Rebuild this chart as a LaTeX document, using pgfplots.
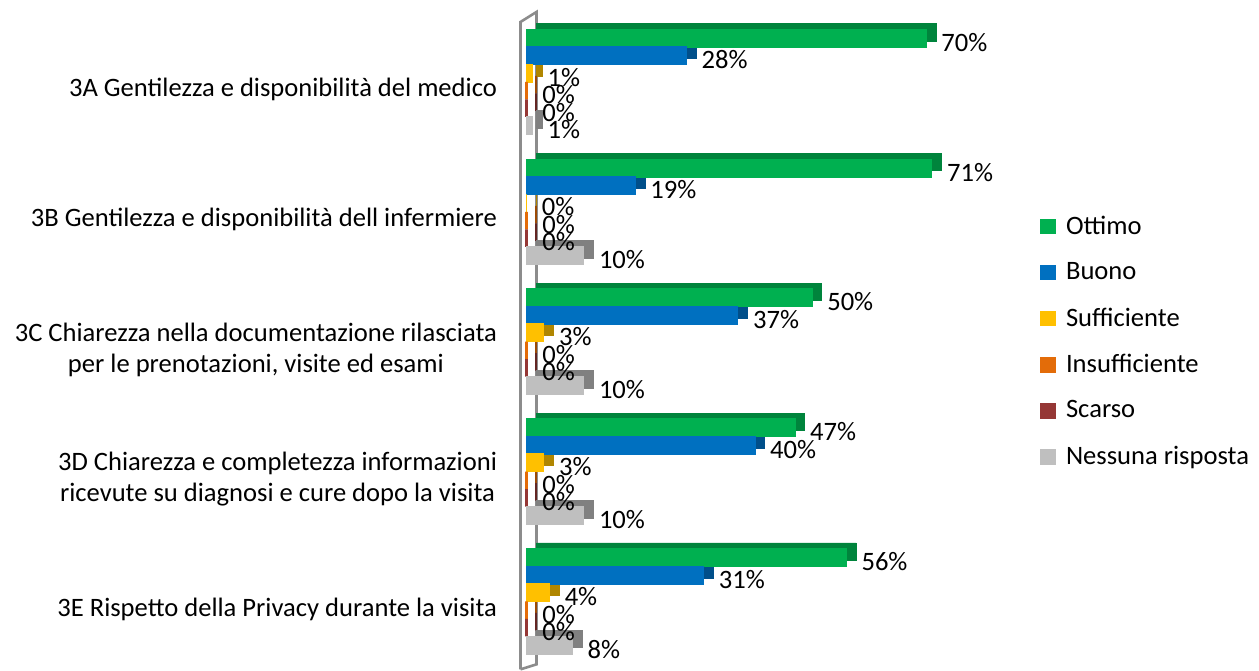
\documentclass[border=0pt]{standalone}
\usepackage{pgfplots}
\pgfplotsset{compat=1.18}
\usepackage{pgfplotstable}
\usepackage{fontspec}
\setmainfont{Carlito}

\definecolor{cOtt}{HTML}{00B050}\definecolor{dOtt}{HTML}{00843C}
\definecolor{cBuo}{HTML}{0070C0}\definecolor{dBuo}{HTML}{004F8A}
\definecolor{cSuf}{HTML}{FFC000}\definecolor{dSuf}{HTML}{B08600}
\definecolor{cIns}{HTML}{E36C09}\definecolor{dIns}{HTML}{9C4A06}
\definecolor{cSca}{HTML}{953735}\definecolor{dSca}{HTML}{632523}
\definecolor{cNes}{HTML}{BFBFBF}\definecolor{dNes}{HTML}{808080}

% y = 4 is 3A (top), y = 0 is 3E (bottom)
\pgfplotstableread{
y x
4 70
3 71
2 50
1 47
0 56
}\ottimo
\pgfplotstableread{
y x
4 28
3 19
2 37
1 40
0 31
}\buono
\pgfplotstableread{
y x
4 1
3 0
2 3
1 3
0 4
}\sufficiente
\pgfplotstableread{
y x
4 0
3 0
2 0
1 0
0 0
}\insufficiente
\pgfplotstableread{
y x
4 0
3 0
2 0
1 0
0 0
}\scarso
\pgfplotstableread{
y x
4 1
3 10
2 10
1 10
0 8
}\nessuna

\begin{document}
\begin{tikzpicture}
\begin{axis}[
  scale only axis, width=228.5pt, height=325pt,
  xbar, bar width=8.75pt,
  xmin=0, xmax=80, ymin=-0.5, ymax=4.5,
  clip=false,
  axis line style={draw=none}, tick style={draw=none},
  xtick=\empty,
  ytick={0,1,2,3,4},
  yticklabels={
    3E Rispetto della Privacy durante la visita,
    {3D Chiarezza e completezza informazioni\\ricevute su diagnosi e cure dopo la visita},
    {3C Chiarezza nella documentazione rilasciata\\per le prenotazioni, visite ed esami},
    3B Gentilezza e disponibilità dell infermiere,
    3A Gentilezza e disponibilità del medico},
  yticklabel style={align=center, font=\fontsize{13.3}{15.5}\selectfont, xshift=-7pt, yshift=-4pt},
  /pgf/number format/assume math mode=true,
  nodes near coords={\pgfmathprintnumber{\pgfplotspointmeta}\%},
  point meta=x,
  every node near coord/.append style={font=\fontsize{13.3}{14}\selectfont, anchor=west, xshift=4pt, yshift=-2pt},
  legend style={draw=none, fill=none, at={(1.11,0.5)}, anchor=west,
    font=\fontsize{13.3}{15}\selectfont, row sep=8.6pt, cells={anchor=west}},
  legend image code/.code={\fill[#1] (0pt,-3.5pt) rectangle (7pt,3.5pt); \path (10pt,0pt);},
]
% back wall
\draw[gray!90, line width=1.3pt]
  ([xshift=-3pt,yshift=-1.5pt]rel axis cs:0,0) -- ([xshift=-3pt,yshift=-2.5pt]rel axis cs:0,1)
  -- ([xshift=5pt,yshift=2.5pt]rel axis cs:0,1) -- ([xshift=5pt,yshift=1pt]rel axis cs:0,0)
  -- ([xshift=-3pt,yshift=-1.5pt]rel axis cs:0,0);
% depth faces of the 3D bars
\begin{scope}[xshift=2.5pt, yshift=1.5pt]
\addplot[forget plot, fill=dOtt, draw=dOtt, line width=0.4pt, bar shift=21.875pt, nodes near coords={}] table[x=x,y=y] {\ottimo};
\addplot[forget plot, fill=dBuo, draw=dBuo, line width=0.4pt, bar shift=13.125pt, nodes near coords={}] table[x=x,y=y] {\buono};
\addplot[forget plot, fill=dSuf, draw=dSuf, line width=0.4pt, bar shift=4.375pt, nodes near coords={}] table[x=x,y=y] {\sufficiente};
\addplot[forget plot, fill=dIns, draw=dIns, line width=1pt, bar shift=-4.375pt, nodes near coords={}] table[x=x,y=y] {\insufficiente};
\addplot[forget plot, fill=dSca, draw=dSca, line width=1pt, bar shift=-13.125pt, nodes near coords={}] table[x=x,y=y] {\scarso};
\addplot[forget plot, fill=dNes, draw=dNes, line width=0.4pt, bar shift=-21.875pt, nodes near coords={}] table[x=x,y=y] {\nessuna};
\end{scope}
% front faces
\addplot[fill=cOtt, draw=cOtt, line width=0.8pt, bar shift=21.875pt] table[x=x,y=y] {\ottimo};
\addplot[fill=cBuo, draw=cBuo, line width=0.8pt, bar shift=13.125pt] table[x=x,y=y] {\buono};
\addplot[fill=cSuf, draw=cSuf, line width=0.8pt, bar shift=4.375pt] table[x=x,y=y] {\sufficiente};
\addplot[fill=cIns, draw=cIns, line width=1.2pt, bar shift=-4.375pt] table[x=x,y=y] {\insufficiente};
\addplot[fill=cSca, draw=cSca, line width=1.2pt, bar shift=-13.125pt] table[x=x,y=y] {\scarso};
\addplot[fill=cNes, draw=cNes, line width=0.8pt, bar shift=-21.875pt] table[x=x,y=y] {\nessuna};
\legend{Ottimo, Buono, Sufficiente, Insufficiente, Scarso, Nessuna risposta}
% page extent
\path ([xshift=-263.5pt,yshift=-2pt]rel axis cs:0,0) rectangle ([xshift=137.5pt,yshift=8.5pt]rel axis cs:1,1);
\end{axis}
\end{tikzpicture}
\end{document}
